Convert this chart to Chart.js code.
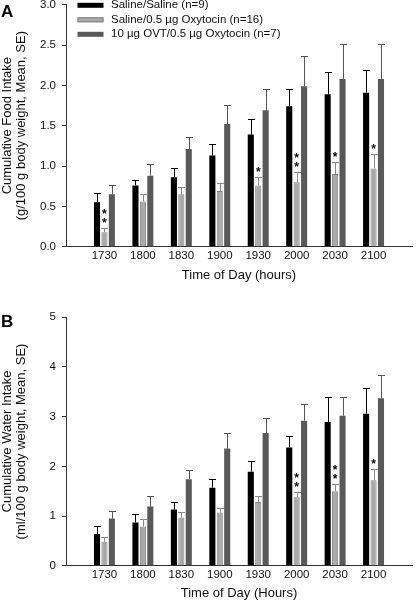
<!DOCTYPE html>
<html><head><meta charset="utf-8">
<script src="https://cdn.jsdelivr.net/npm/chart.js@4.4.0/dist/chart.umd.min.js"></script>
<style>
html,body{margin:0;padding:0;background:#fff;overflow:hidden}
#wrap{position:relative;width:420px;height:600px;overflow:hidden;background:#fff}
.pane{position:absolute;left:0;width:420px;height:310px}
canvas{display:block}
</style></head><body>
<div id="wrap">
<div class="pane" style="top:-10px"><canvas id="cA" width="420" height="310"></canvas></div>
<div class="pane" style="top:300px"><canvas id="cB" width="420" height="310"></canvas></div>
</div>
<script>
// ---- data ----
const times = ['1730','1800','1830','1900','1930','2000','2030','2100'];
const seriesNames = ['Saline/Saline (n=9)', 'Saline/0.5 \u00b5g Oxytocin (n=16)', '10 \u00b5g OVT/0.5 \u00b5g Oxytocin (n=7)'];

const foodSaline     = [0.55, 0.76, 0.86, 1.13, 1.39, 1.74, 1.89, 1.91];
const foodSalineSE   = [0.11, 0.07, 0.11, 0.14, 0.19, 0.22, 0.27, 0.28];
const foodOxy        = [0.18, 0.56, 0.65, 0.69, 0.76, 0.80, 0.90, 0.97];
const foodOxySE      = [0.05, 0.09, 0.09, 0.10, 0.10, 0.12, 0.15, 0.18];
const foodOvt        = [0.65, 0.88, 1.21, 1.52, 1.69, 1.99, 2.08, 2.08];
const foodOvtSE      = [0.12, 0.15, 0.15, 0.24, 0.26, 0.37, 0.43, 0.43];
const foodStars      = [2, 0, 0, 0, 1, 2, 1, 1];

const waterSaline    = [0.64, 0.87, 1.13, 1.57, 1.89, 2.38, 2.89, 3.06];
const waterSalineSE  = [0.15, 0.17, 0.16, 0.18, 0.21, 0.24, 0.51, 0.51];
const waterOxy       = [0.48, 0.79, 0.97, 1.07, 1.28, 1.38, 1.50, 1.72];
const waterOxySE     = [0.10, 0.14, 0.12, 0.09, 0.12, 0.11, 0.14, 0.22];
const waterOvt       = [0.95, 1.19, 1.74, 2.36, 2.67, 2.92, 3.02, 3.37];
const waterOvtSE     = [0.16, 0.21, 0.18, 0.32, 0.30, 0.34, 0.37, 0.46];
const waterStars     = [0, 0, 0, 0, 0, 2, 2, 1];

const foodYTicks  = [0, 0.5, 1.0, 1.5, 2.0, 2.5, 3.0];
const waterYTicks = [0, 1, 2, 3, 4, 5];

// ---- styling ----
const FONT = "'Liberation Sans', Arial, Helvetica, sans-serif";
Chart.defaults.font.family = FONT;
Chart.defaults.color = '#111';
const fills   = ['#000000', '#a9a9a9', '#595959'];
const borders = ['#000000', '#808080', '#595959'];
const errCols = ['#000000', '#8a8a8a', '#555555'];

const pad = a => [null, ...a, null];
const labels = ['', ...times, ''];

const errorBars = {
  id: 'errorBars',
  afterDatasetsDraw(chart) {
    const ctx = chart.ctx, ys = chart.scales.y;
    ctx.save();
    ctx.lineWidth = 1;
    chart.data.datasets.forEach((ds, di) => {
      const meta = chart.getDatasetMeta(di);
      meta.data.forEach((bar, i) => {
        const v = ds.data[i];
        if (v == null) return;
        const se = ds.se[i];
        const yTop = Math.round(ys.getPixelForValue(v + se)) + 0.5;
        const x = Math.round(bar.x) + 0.5;
        ctx.strokeStyle = errCols[di];
        ctx.beginPath();
        ctx.moveTo(x, bar.y);
        ctx.lineTo(x, yTop);
        ctx.moveTo(x - 3.5, yTop);
        ctx.lineTo(x + 3.5, yTop);
        ctx.stroke();
      });
    });
    // significance stars above the oxytocin series
    const stars = chart.options.plugins.errorBars.stars;
    const ds = chart.data.datasets[1];
    const meta = chart.getDatasetMeta(1);
    ctx.fillStyle = '#000';
    ctx.font = 'bold 12px ' + FONT;
    ctx.textAlign = 'center';
    ctx.textBaseline = 'alphabetic';
    meta.data.forEach((bar, i) => {
      const v = ds.data[i];
      if (v == null) return;
      const n = stars[i - 1];
      if (!n) return;
      const yTop = ys.getPixelForValue(v + ds.se[i]);
      for (let k = 0; k < n; k++) {
        ctx.fillText('*', bar.x, yTop - 1 - k * 9);
      }
    });
    ctx.restore();
  }
};

const panelDecor = {
  id: 'panelDecor',
  afterDraw(chart) {
    const o = chart.options.plugins.panelDecor;
    const ctx = chart.ctx;
    ctx.save();
    ctx.fillStyle = '#000';
    ctx.font = 'bold 17px ' + FONT;
    ctx.textAlign = 'left';
    ctx.textBaseline = 'alphabetic';
    ctx.fillText(o.letter, 1, o.letterY);
    if (o.legend) {
      const ca = chart.chartArea;
      ctx.font = '11.5px ' + FONT;
      ctx.textBaseline = 'middle';
      chart.data.datasets.forEach((ds, i) => {
        const cy = o.legendTop + i * 14.5;
        const bx = ca.left + 11.5;
        ctx.fillStyle = fills[i];
        ctx.fillRect(bx, cy - 2.5, 26, 5);
        if (i === 1) {
          ctx.strokeStyle = borders[i];
          ctx.lineWidth = 1;
          ctx.strokeRect(bx + 0.5, cy - 2.5 + 0.5, 25, 4);
        }
        ctx.fillStyle = '#111';
        ctx.fillText(ds.label, bx + 33.5, cy);
      });
    }
    ctx.restore();
  }
};

function makeChart(id, cfg) {
  const datasets = cfg.series.map((s, i) => ({
    label: seriesNames[i],
    data: pad(s.v),
    se: pad(s.se),
    backgroundColor: fills[i],
    borderColor: borders[i],
    borderWidth: i === 1 ? 1 : 0,
    categoryPercentage: 0.58,
    barPercentage: 0.82
  }));
  return new Chart(document.getElementById(id), {
    type: 'bar',
    data: { labels, datasets },
    plugins: [errorBars, panelDecor],
    options: {
      responsive: false,
      animation: false,
      events: [],
      layout: { padding: { top: cfg.padTop, right: 8, bottom: cfg.padBottom, left: 0 } },
      plugins: {
        legend: { display: false },
        tooltip: { enabled: false },
        errorBars: { stars: cfg.stars },
        panelDecor: { letter: cfg.letter, letterY: 27, legend: cfg.legend, legendTop: 15.3 }
      },
      scales: {
        x: {
          type: 'category',
          offset: false,
          grid: { display: false, drawTicks: false },
          border: { display: true, color: '#333', width: 1 },
          ticks: { font: { size: 11.5 }, padding: 2, maxRotation: 0, autoSkip: false, color: '#111' },
          title: { display: true, text: cfg.xTitle, font: { size: 13, lineHeight: 1.15 }, padding: { top: 0, bottom: 0 }, color: '#111' },
          afterFit: s => { s.height = cfg.xHeight; }
        },
        y: {
          min: cfg.yTicks[0],
          max: cfg.yTicks[cfg.yTicks.length - 1],
          afterBuildTicks: s => { s.ticks = cfg.yTicks.map(v => ({ value: v })); },
          grid: { display: true, drawOnChartArea: false, drawTicks: true, tickLength: 4, color: '#333' },
          border: { display: true, color: '#333', width: 1 },
          ticks: { font: { size: 11.5 }, padding: 6, color: '#111', callback: cfg.fmt },
          title: { display: true, text: cfg.yTitle, font: { size: 13, lineHeight: 1.12 }, padding: { top: 0, bottom: 0 }, color: '#111' },
          afterFit: s => { s.width = 66; }
        }
      }
    }
  });
}

makeChart('cA', {
  series: [{ v: foodSaline, se: foodSalineSE }, { v: foodOxy, se: foodOxySE }, { v: foodOvt, se: foodOvtSE }],
  stars: foodStars,
  yTicks: foodYTicks,
  fmt: v => Number(v).toFixed(1),
  yTitle: ['Cumulative Food Intake', '(g/100 g body weight, Mean, SE)'],
  xTitle: 'Time of Day (hours)',
  letter: 'A',
  legend: true,
  padTop: 14.7,
  padBottom: 17.5,
  xHeight: 35.8
});

makeChart('cB', {
  series: [{ v: waterSaline, se: waterSalineSE }, { v: waterOxy, se: waterOxySE }, { v: waterOvt, se: waterOvtSE }],
  stars: waterStars,
  yTicks: waterYTicks,
  fmt: v => String(v),
  yTitle: ['Cumulative Water Intake', '(ml/100 g body weight, Mean, SE)'],
  xTitle: 'Time of Day (Hours)',
  letter: 'B',
  legend: false,
  padTop: 17.3,
  padBottom: 9.5,
  xHeight: 34.8
});
</script>
</body></html>
